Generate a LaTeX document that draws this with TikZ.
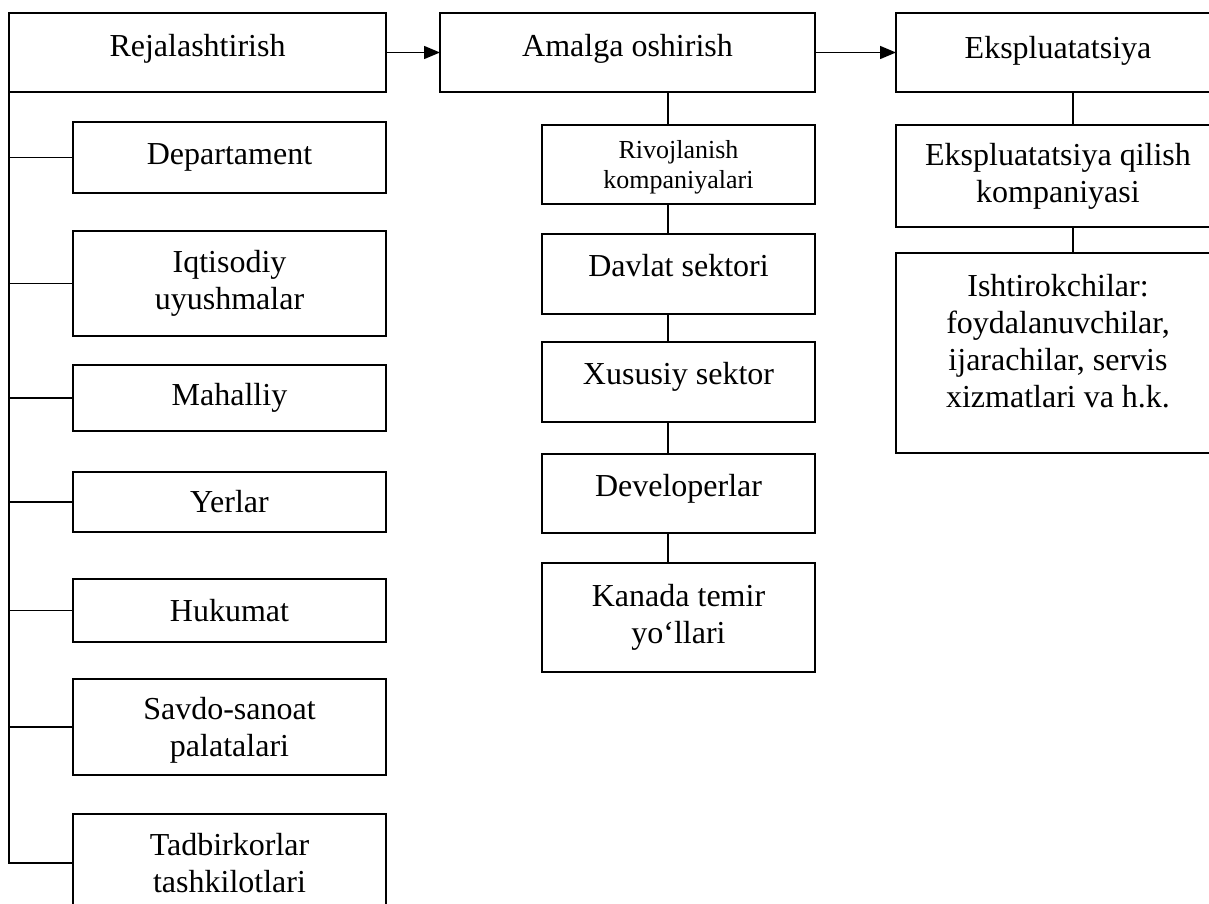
\documentclass[tikz,border=0pt]{standalone}
\usepackage{fontspec}
\setmainfont{Liberation Serif}
\usetikzlibrary{arrows.meta, positioning}
\tikzstyle{unit} = [rectangle, draw=black, line width=0.75pt, outer sep=0pt, inner sep=2pt, align=center, font=\fontsize{16}{18.5}\selectfont]
\tikzstyle{arrow} = [line width=0.75pt,->,>={Triangle[length=8pt,width=6.5pt]}]
\tikzstyle{link} = [line width=0.75pt]
\tikzset{lifted/.style={text height=11pt, text depth=#1}}

\begin{document}
\begin{tikzpicture}[x=0.5pt, y=-0.5pt]
    \tikzstyle{leftbox} = [unit, minimum width=156.5pt]
    \tikzstyle{midbox} = [unit, minimum width=136.5pt]
    \tikzstyle{rightbox} = [unit, minimum width=162pt]
    \useasboundingbox (0,0) rectangle (1209,904);
    \clip (0,0) rectangle (1209,904);

    % stages
    \node (rej) [unit, minimum width=188.5pt, minimum height=39.5pt, lifted=7pt, anchor=north west] at (9,13) {Rejalashtirish};
    \node (am) [unit, minimum width=187.5pt, minimum height=39.5pt, lifted=7pt, right=27pt of rej] {Amalga oshirish};
    \node (ek) [rightbox, minimum height=39.5pt, lifted=5pt, right=40.5pt of am] {Ekspluatatsiya};

    % planning
    \node (dep) [leftbox, minimum height=35.5pt, lifted=4pt, below=15pt of rej.south east, anchor=north east] {Departament};
    \node (iqt) [leftbox, minimum height=52.5pt, below=19pt of dep] {Iqtisodiy\\uyushmalar};
    \node (mah) [leftbox, minimum height=33pt, below=14.5pt of iqt] {Mahalliy};
    \node (yer) [leftbox, minimum height=30pt, below=20.5pt of mah] {Yerlar};
    \node (huk) [leftbox, minimum height=31.5pt, below=23.5pt of yer] {Hukumat};
    \node (sav) [leftbox, minimum height=48pt, text depth=0pt, below=18.5pt of huk] {Savdo-sanoat\\palatalari};
    \node (tad) [leftbox, minimum height=49pt, below=19.5pt of sav] {Tadbirkorlar\\tashkilotlari};

    % implementation
    \node (riv) [midbox, minimum height=39.5pt, text depth=0pt, font=\fontsize{13}{15}\selectfont, below=16.5pt of am.south east, anchor=north east] {Rivojlanish\\kompaniyalari};
    \node (dav) [midbox, minimum height=40pt, lifted=8.5pt, below=15pt of riv] {Davlat sektori};
    \node (xus) [midbox, minimum height=40pt, lifted=8.5pt, below=14pt of dav] {Xususiy sektor};
    \node (dev) [midbox, minimum height=39.5pt, lifted=8pt, below=16pt of xus] {Developerlar};
    \node (kan) [midbox, minimum height=54.5pt, below=15pt of dev] {Kanada temir\\yo‘llari};

    % operation
    \node (ekq) [rightbox, minimum height=51pt, below=16.5pt of ek] {Ekspluatatsiya qilish\\kompaniyasi};
    \node (ish) [rightbox, minimum height=100pt, text depth=12pt, below=13pt of ekq] {Ishtirokchilar:\\foydalanuvchilar,\\ijarachilar, servis\\xizmatlari va h.k.};

    \coordinate (midline) at (668,0);
    \coordinate (rightline) at (1073,0);

    \draw [arrow] (rej) -- (am);
    \draw [arrow] (am) -- (ek);
    \draw [link] (rej.south west) |- (tad.west);
    \foreach \n in {dep,iqt,mah,yer,huk,sav}
        \draw [link] (rej.south west |- \n.west) -- (\n.west);
    \foreach \a/\b in {am/riv, riv/dav, dav/xus, xus/dev, dev/kan}
        \draw [link] (\a.south -| midline) -- (\b.north -| midline);
    \foreach \a/\b in {ek/ekq, ekq/ish}
        \draw [link] (\a.south -| rightline) -- (\b.north -| rightline);
\end{tikzpicture}
\end{document}
